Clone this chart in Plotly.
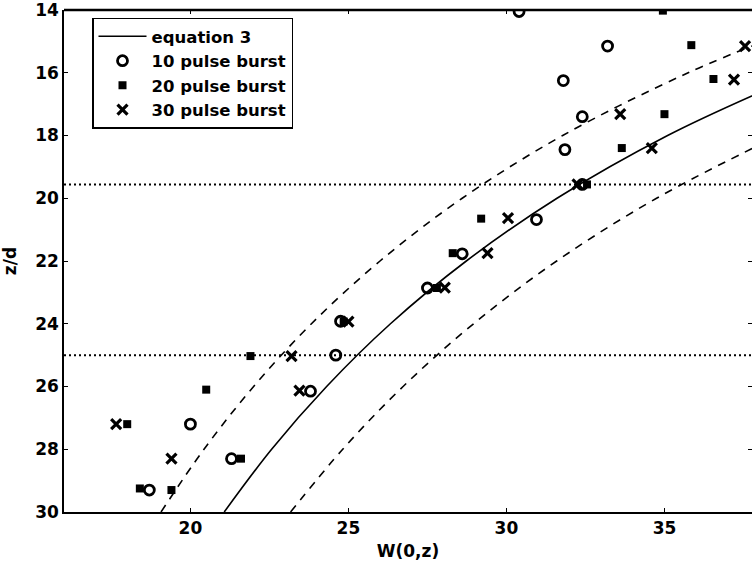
import plotly.graph_objects as go

# Theoretical curve (equation 3) and its +/-10 % band, sampled along z/d
eq_z = [30.0, 28.0, 26.0, 24.0, 22.0, 20.0, 18.0, 16.5]
eq_w = [21.07, 22.57, 24.31, 26.33, 28.73, 31.6, 35.1, 38.3]

band_lo_z = [30.0, 28.0, 26.0, 24.0, 22.0, 20.0, 18.0, 16.0, 14.8]
band_lo_w = [19.07, 20.43, 22.0, 23.83, 26.0, 28.6, 31.78, 35.75, 38.65]

band_hi_z = [30.0, 28.0, 26.0, 24.0, 22.0, 20.0, 18.0]
band_hi_w = [23.17, 24.82, 26.73, 28.96, 31.59, 34.75, 38.61]

# Measured half-widths
p10_w = [30.4, 33.2, 31.8, 32.4, 31.85, 32.4, 30.95, 28.6, 27.5, 24.75, 24.6, 23.8, 20.0, 21.3, 18.7]
p10_z = [14.05, 15.15, 16.25, 17.4, 18.45, 19.56, 20.68, 21.77, 22.86, 23.92, 25.0, 26.15, 27.2, 28.3, 29.3]

p20_w = [34.95, 35.85, 36.55, 35.0, 33.65, 32.55, 29.2, 28.3, 27.8, 24.85, 21.9, 20.5, 18.0, 21.6, 18.4, 19.4]
p20_z = [14.02, 15.12, 16.2, 17.32, 18.4, 19.56, 20.65, 21.75, 22.86, 23.93, 25.03, 26.1, 27.2, 28.3, 29.25, 29.3]

p30_w = [37.55, 37.2, 33.6, 34.6, 32.25, 30.05, 29.4, 28.05, 25.0, 23.2, 23.45, 17.65, 19.4]
p30_z = [15.15, 16.22, 17.32, 18.4, 19.56, 20.63, 21.75, 22.85, 23.93, 25.03, 26.13, 27.2, 28.3]

# Reference depths marked with dotted lines
ref_levels = [19.56, 25.0]

x_range = [16, 37.77]
y_range = [30, 14]
x_ticks = [20, 25, 30, 35]
y_ticks = [14, 16, 18, 20, 22, 24, 26, 28, 30]

fig = go.Figure()

for lvl in ref_levels:
    fig.add_trace(go.Scatter(
        x=x_range, y=[lvl, lvl], mode="lines", showlegend=False,
        line=dict(color="black", width=2, dash="2px,3px"), hoverinfo="skip"))

fig.add_trace(go.Scatter(
    x=band_lo_w, y=band_lo_z, mode="lines", showlegend=False,
    line=dict(color="black", width=1.6, dash="8px,7px", shape="spline")))
fig.add_trace(go.Scatter(
    x=band_hi_w, y=band_hi_z, mode="lines", showlegend=False,
    line=dict(color="black", width=1.6, dash="8px,7px", shape="spline")))

fig.add_trace(go.Scatter(
    x=eq_w, y=eq_z, mode="lines", name="equation 3",
    line=dict(color="black", width=1.6, shape="spline")))

fig.add_trace(go.Scatter(
    x=p10_w, y=p10_z, mode="markers", name="10 pulse burst",
    marker=dict(symbol="circle-open", size=10, color="black", line=dict(width=2.8))))
fig.add_trace(go.Scatter(
    x=p20_w, y=p20_z, mode="markers", name="20 pulse burst",
    marker=dict(symbol="square", size=8, color="black", line=dict(width=0))))
fig.add_trace(go.Scatter(
    x=p30_w, y=p30_z, mode="markers", name="30 pulse burst",
    marker=dict(symbol="x-thin-open", size=10, color="black", line=dict(width=3.2))))

# Invisible trace carrying the mirrored top/right tick axes
fig.add_trace(go.Scatter(x=[None], y=[None], xaxis="x2", yaxis="y2",
                         showlegend=False, hoverinfo="skip"))

font = dict(family="DejaVu Sans", size=17, color="black", weight="bold")
legend_font = dict(family="DejaVu Sans", size=16.5, color="black", weight="bold")

fig.update_layout(
    width=752, height=567,
    margin=dict(l=64, r=0, t=10, b=55),
    paper_bgcolor="white", plot_bgcolor="white",
    font=font,
    xaxis=dict(range=x_range, tickvals=x_ticks, ticks="inside", ticklen=4,
               tickwidth=1, tickcolor="black", showgrid=False, zeroline=False,
               showline=True, linecolor="black", linewidth=2, mirror=False,
               title=dict(text="W(0,z)", font=font, standoff=8)),
    yaxis=dict(range=y_range, tickvals=y_ticks, ticks="inside", ticklen=4,
               tickwidth=1, tickcolor="black", showgrid=False, zeroline=False,
               showline=True, linecolor="black", linewidth=1.5, mirror=False,
               ticklabeloverflow="allow",
               title=dict(text="z/d", font=font, standoff=14)),
    xaxis2=dict(range=x_range, tickvals=x_ticks, ticks="inside", ticklen=4,
                tickcolor="black", showticklabels=False, showgrid=False,
                zeroline=False, showline=False, overlaying="x", side="top"),
    yaxis2=dict(range=y_range, tickvals=y_ticks, ticks="inside", ticklen=4,
                tickcolor="black", showticklabels=False, showgrid=False,
                zeroline=False, showline=False, overlaying="y", side="right"),
    legend=dict(x=0.0407, y=0.985, xanchor="left", yanchor="top",
                bgcolor="white", bordercolor="black", borderwidth=1.5,
                font=legend_font, itemwidth=48, tracegroupgap=0,
                entrywidth=210, entrywidthmode="pixels"),
    shapes=[dict(type="line", xref="paper", yref="paper", x0=0, x1=1, y0=1, y1=1,
                 line=dict(color="black", width=2.5))],
)

fig.write_html("out.html")
